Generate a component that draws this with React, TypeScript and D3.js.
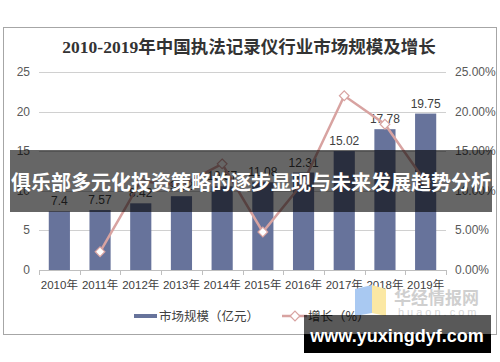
import * as d3 from 'd3';
import { useEffect, useRef } from 'react';

const years = ['2010年', '2011年', '2012年', '2013年', '2014年', '2015年', '2016年', '2017年', '2018年', '2019年'];
const marketSize = [7.4, 7.57, 8.42, 9.32, 10.57, 11.08, 12.31, 15.02, 17.78, 19.75];
const growth: (number | null)[] = [null, 2.3, 11.2, 10.7, 13.4, 4.8, 11.1, 22.0, 18.4, 11.1];
const leftTicks = [0, 5, 10, 15, 20, 25];
const rightTicks = ['0.00%', '5.00%', '10.00%', '15.00%', '20.00%', '25.00%'];

const sans = '"Liberation Sans", Arial, "Noto Sans CJK SC", sans-serif';
const cjk = '"Noto Sans CJK SC", sans-serif';

const App = () => {
  const svgRef = useRef<any>();
  const width = 500;
  const height = 362;

  useEffect(() => {
    const svg = d3.select(svgRef.current);
    svg.selectAll('*').remove();

    const x = d3.scaleBand().domain(years).range([39, 446]).padding(0);
    const y = d3.scaleLinear().domain([0, 25]).range([270, 72]);
    const yRight = d3.scaleLinear().domain([0, 25]).range([270, 72]);
    const barW = x.bandwidth() * 0.52;
    const cx = (d: string) => (x(d) as number) + x.bandwidth() / 2;

    svg.append('rect').attr('width', width).attr('height', height).attr('fill', '#fff');

    // frame
    svg
      .append('rect')
      .attr('x', 3.5)
      .attr('y', 27.5)
      .attr('width', 493)
      .attr('height', 307)
      .attr('fill', '#fff')
      .attr('stroke', '#a6a6a6');

    svg
      .append('text')
      .attr('x', 249)
      .attr('y', 53)
      .attr('text-anchor', 'middle')
      .attr('font-family', '"Liberation Serif", "Noto Sans CJK SC", serif')
      .attr('font-weight', 'bold')
      .attr('font-size', 17.5)
      .attr('fill', '#333')
      .text('2010-2019年中国执法记录仪行业市场规模及增长');

    // gridlines
    svg
      .append('g')
      .selectAll('line')
      .data(leftTicks.slice(1))
      .enter()
      .append('line')
      .attr('x1', 39)
      .attr('x2', 446)
      .attr('y1', (d) => Math.round(y(d)) + 0.5)
      .attr('y2', (d) => Math.round(y(d)) + 0.5)
      .attr('stroke', '#d0d0d0');

    // left labels
    svg
      .append('g')
      .selectAll('text')
      .data(leftTicks)
      .enter()
      .append('text')
      .attr('x', 30)
      .attr('y', (d) => y(d) + 4)
      .attr('text-anchor', 'end')
      .attr('font-family', sans)
      .attr('font-size', 12)
      .attr('fill', '#595959')
      .text((d) => d);

    // right labels
    svg
      .append('g')
      .selectAll('text')
      .data(rightTicks)
      .enter()
      .append('text')
      .attr('x', 455)
      .attr('y', (_d, i) => yRight(leftTicks[i]) + 4)
      .attr('font-family', sans)
      .attr('font-size', 12)
      .attr('fill', '#595959')
      .text((d) => d);

    // bars
    svg
      .append('g')
      .selectAll('rect')
      .data(marketSize)
      .enter()
      .append('rect')
      .attr('x', (_d, i) => cx(years[i]) - barW / 2)
      .attr('y', (d) => y(d))
      .attr('width', barW)
      .attr('height', (d) => 270 - y(d))
      .attr('fill', '#67739b');

    // bar labels
    svg
      .append('g')
      .selectAll('text')
      .data(marketSize)
      .enter()
      .append('text')
      .attr('x', (_d, i) => cx(years[i]))
      .attr('y', (d) => y(d) - 6)
      .attr('text-anchor', 'middle')
      .attr('font-family', sans)
      .attr('font-size', 12)
      .attr('fill', '#404040')
      .text((d) => d);

    // x axis
    const axis = svg.append('g');
    axis
      .append('line')
      .attr('x1', 39)
      .attr('x2', 446)
      .attr('y1', 270.5)
      .attr('y2', 270.5)
      .attr('stroke', '#bfbfbf');
    axis
      .selectAll('.tick')
      .data([...years.map((d) => x(d) as number), 446])
      .enter()
      .append('line')
      .attr('x1', (d) => Math.round(d) + 0.5)
      .attr('x2', (d) => Math.round(d) + 0.5)
      .attr('y1', 270)
      .attr('y2', 275)
      .attr('stroke', '#bfbfbf');
    axis
      .selectAll('text')
      .data(years)
      .enter()
      .append('text')
      .attr('x', (d) => cx(d))
      .attr('y', 289)
      .attr('text-anchor', 'middle')
      .attr('font-family', sans)
      .attr('font-size', 11.5)
      .attr('fill', '#404040')
      .text((d) => d);

    // growth line
    const pts = growth
      .map((g, i) => ({ g, year: years[i] }))
      .filter((p) => p.g !== null) as { g: number; year: string }[];
    const line = d3
      .line<{ g: number; year: string }>()
      .x((d) => cx(d.year))
      .y((d) => yRight(d.g));
    svg
      .append('path')
      .attr('d', line(pts))
      .attr('fill', 'none')
      .attr('stroke', '#d8a3a1')
      .attr('stroke-width', 2.5);
    const diamond = d3.symbol().type(d3.symbolDiamond2).size(60);
    svg
      .append('g')
      .selectAll('path')
      .data(pts)
      .enter()
      .append('path')
      .attr('d', diamond)
      .attr('transform', (d) => `translate(${cx(d.year)},${yRight(d.g)})`)
      .attr('fill', '#fff')
      .attr('stroke', '#d8a3a1')
      .attr('stroke-width', 1.2);

    // legend
    const lg = svg.append('g');
    lg.append('rect').attr('x', 134).attr('y', 314).attr('width', 23).attr('height', 4).attr('fill', '#67739b');
    lg.append('text')
      .attr('x', 159)
      .attr('y', 320.5)
      .attr('font-family', cjk)
      .attr('font-size', 12.5)
      .attr('fill', '#404040')
      .text('市场规模（亿元）');
    lg.append('line')
      .attr('x1', 282)
      .attr('x2', 307)
      .attr('y1', 316)
      .attr('y2', 316)
      .attr('stroke', '#d8a3a1')
      .attr('stroke-width', 2.5);
    lg.append('path')
      .attr('d', diamond)
      .attr('transform', 'translate(295,316)')
      .attr('fill', '#fff')
      .attr('stroke', '#d8a3a1')
      .attr('stroke-width', 1.2);
    lg.append('text')
      .attr('x', 308)
      .attr('y', 320.5)
      .attr('font-family', cjk)
      .attr('font-size', 12.5)
      .attr('fill', '#404040')
      .text('增长（%）');

    // huaon watermark
    const wm = svg.append('g');
    wm.append('path').attr('d', 'M355,289 L372,285 L372,313 L355,316 Z').attr('fill', '#a9c9f2');
    wm.append('path').attr('d', 'M372,285 L386,289 L386,316 L372,313 Z').attr('fill', '#fbe8a4');
    wm.append('text')
      .attr('x', 394)
      .attr('y', 304)
      .attr('font-family', cjk)
      .attr('font-weight', 'bold')
      .attr('font-size', 17)
      .attr('fill', '#cfcfcf')
      .text('华经情报网');
    wm.append('text')
      .attr('x', 398)
      .attr('y', 316)
      .attr('font-family', sans)
      .attr('font-size', 11)
      .attr('letter-spacing', 3)
      .attr('fill', '#d5d5d5')
      .text('huaon.com');

    // banner overlay
    svg.append('rect').attr('x', 10).attr('y', 150).attr('width', 482).attr('height', 62).attr('fill', 'rgba(0,0,0,0.6)');
    svg
      .append('text')
      .attr('x', 251)
      .attr('y', 190)
      .attr('text-anchor', 'middle')
      .attr('font-family', cjk)
      .attr('font-weight', 'bold')
      .attr('font-size', 20)
      .attr('fill', '#fff')
      .text('俱乐部多元化投资策略的逐步显现与未来发展趋势分析');

    // site box
    svg.append('rect').attr('x', 304).attr('y', 315).attr('width', 187).attr('height', 19).attr('fill', 'rgba(0,0,0,0.65)');
    svg.append('rect').attr('x', 304).attr('y', 334).attr('width', 187).attr('height', 19).attr('fill', '#000');
    svg
      .append('text')
      .attr('x', 397)
      .attr('y', 342)
      .attr('text-anchor', 'middle')
      .attr('font-family', sans)
      .attr('font-weight', 'bold')
      .attr('font-size', 18)
      .attr('fill', '#fff')
      .text('www.yuxingdyf.com');
  }, []);

  return (
    <svg
      ref={svgRef}
      width={width}
      height={height}
      style={{ position: 'absolute', left: 0, top: 0, display: 'block' }}
    />
  );
};

export default App;
